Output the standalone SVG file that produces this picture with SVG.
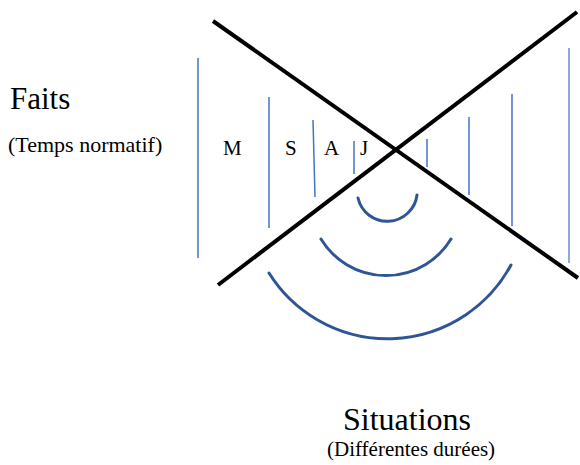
<svg xmlns="http://www.w3.org/2000/svg" width="580" height="465" viewBox="0 0 580 465">
<style>
.t{font-family:"Liberation Serif","Times New Roman",serif;fill:#000}
.x{stroke:#000;stroke-width:4;fill:none}
.v{stroke:#4472C4;stroke-width:1.5;fill:none}
.a{stroke:#2F5597;stroke-width:3;fill:none;stroke-linecap:round}
</style>
<rect width="580" height="465" fill="#fff"/>
<g id="cross">
<line class="x" x1="213" y1="21" x2="578" y2="278"/>
<line class="x" x1="218" y1="285" x2="577" y2="12"/>
</g>
<g id="faits-lines">
<line class="v" x1="198" y1="58" x2="198" y2="258"/>
<line class="v" x1="269" y1="97" x2="269" y2="228"/>
<line class="v" x1="313" y1="120" x2="315" y2="197"/>
<line class="v" x1="354" y1="141" x2="354" y2="174"/>
<line class="v" x1="427" y1="139" x2="427" y2="167"/>
<line class="v" x1="469" y1="117" x2="469" y2="195"/>
<line class="v" x1="512" y1="94" x2="512" y2="226"/>
<line class="v" x1="569" y1="48" x2="569" y2="263" style="stroke:#8EA9DB;stroke-width:2"/>
</g>
<g id="situations-arcs">
<path class="a" d="M358 198 A30 30 0 0 0 417 195"/>
<path class="a" d="M321 239 A76 76 0 0 0 451 239"/>
<path class="a" d="M269 273 A140 140 0 0 0 511 265"/>
</g>
<g id="labels-left">
<text class="t" x="10" y="109" font-size="31">Faits</text>
<text class="t" x="8" y="152" font-size="22">(Temps normatif)</text>
</g>
<g id="labels-scale">
<text class="t" x="223" y="155" font-size="21">M</text>
<text class="t" x="285" y="155" font-size="21">S</text>
<text class="t" x="324" y="155" font-size="21">A</text>
<text class="t" x="360" y="155" font-size="21">J</text>
</g>
<g id="labels-bottom">
<text class="t" x="343" y="430" font-size="32">Situations</text>
<text class="t" x="327" y="456" font-size="21">(Différentes durées)</text>
</g>
</svg>
